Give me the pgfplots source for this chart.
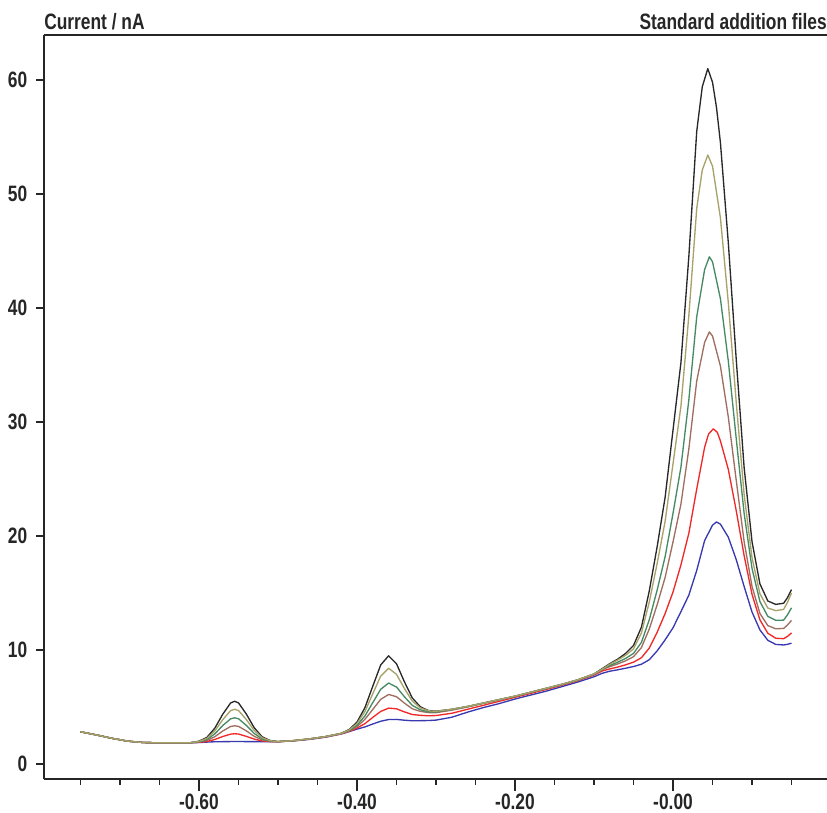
\documentclass[border=0pt]{standalone}
\usepackage{fontspec}
\setmainfont{Liberation Sans}[FakeStretch=0.78]
\usepackage{pgfplots}
\pgfplotsset{compat=1.18}

\definecolor{cBlack}{RGB}{40,40,40}
\definecolor{cOlive}{RGB}{168,162,106}
\definecolor{cGreen}{RGB}{70,138,100}
\definecolor{cBrown}{RGB}{160,110,95}
\definecolor{cRed}{RGB}{240,40,40}
\definecolor{cBlue}{RGB}{56,56,176}
\newcommand{\lblfont}{\fontsize{16.7}{18}\selectfont\bfseries}

\begin{document}
\begin{tikzpicture}
\begin{axis}[
  scale only axis,
  width=587.25pt, height=558pt,
  xmin=-0.7962, xmax=0.1949,
  ymin=-1.316, ymax=63.95,
  axis x line=box, axis y line=left,
  axis line style={-, draw=black!85, line width=1.2pt},
  xtick={-0.6,-0.4,-0.2,0},
  xticklabels={-0.60,-0.40,-0.20,-0.00},
  minor xtick={-0.75,-0.7,-0.65,-0.55,-0.5,-0.45,-0.35,-0.3,-0.25,-0.15,-0.1,-0.05,0.05,0.1,0.15},
  ytick={0,10,20,30,40,50,60},
  yticklabels={0,10,20,30,40,50,60},
  tick align=outside,
  tick pos=left,
  major tick length=9pt, minor tick length=4.5pt,
  ytick style={/pgfplots/major tick length=6pt},
  tick style={line width=1.1pt, draw=black!85},
  tick label style={font=\lblfont, text=black!85},
  xticklabel style={inner sep=1pt, yshift=-1pt},
  /pgf/number format/assume math mode=true,
  every axis plot/.append style={line width=1pt, line join=round},
]
% black
\addplot[cBlack] table {
-0.75 2.83
-0.73 2.55
-0.71 2.25
-0.69 2.00
-0.67 1.88
-0.65 1.86
-0.63 1.86
-0.61 1.87
-0.60 2.00
-0.59 2.33
-0.58 3.14
-0.57 4.36
-0.56 5.35
-0.555 5.50
-0.55 5.36
-0.54 4.37
-0.53 3.17
-0.52 2.38
-0.51 2.06
-0.50 1.97
-0.48 2.05
-0.46 2.20
-0.44 2.40
-0.42 2.69
-0.41 3.02
-0.40 3.67
-0.39 4.94
-0.38 6.83
-0.37 8.69
-0.36 9.49
-0.35 8.79
-0.34 7.21
-0.33 5.79
-0.32 5.03
-0.31 4.69
-0.30 4.63
-0.28 4.80
-0.26 5.05
-0.24 5.35
-0.22 5.65
-0.20 5.95
-0.18 6.30
-0.16 6.65
-0.14 7.00
-0.12 7.40
-0.10 7.90
-0.09 8.35
-0.08 8.80
-0.07 9.20
-0.06 9.70
-0.05 10.40
-0.04 12.00
-0.03 15.20
-0.02 19.10
-0.01 23.40
0.00 29.30
0.01 35.20
0.02 44.50
0.03 55.50
0.037 59.40
0.044 61.00
0.05 59.80
0.055 57.60
0.06 54.50
0.07 45.70
0.08 35.50
0.09 26.00
0.10 19.50
0.11 15.80
0.12 14.30
0.13 14.00
0.14 14.10
0.145 14.60
0.15 15.30
};
% blue
\addplot[cBlue] table {
-0.75 2.83
-0.73 2.55
-0.71 2.25
-0.69 2.00
-0.67 1.88
-0.65 1.86
-0.63 1.86
-0.61 1.87
-0.60 1.88
-0.59 1.92
-0.58 1.95
-0.555 1.97
-0.53 1.96
-0.50 1.95
-0.48 2.03
-0.46 2.16
-0.44 2.35
-0.42 2.63
-0.41 2.84
-0.40 3.06
-0.39 3.25
-0.38 3.51
-0.37 3.75
-0.36 3.90
-0.35 3.91
-0.34 3.84
-0.33 3.79
-0.32 3.80
-0.31 3.81
-0.30 3.85
-0.28 4.10
-0.26 4.55
-0.24 4.95
-0.22 5.30
-0.20 5.70
-0.18 6.05
-0.16 6.40
-0.14 6.80
-0.12 7.20
-0.10 7.65
-0.09 7.95
-0.08 8.14
-0.07 8.26
-0.06 8.40
-0.05 8.55
-0.04 8.75
-0.03 9.15
-0.02 9.93
-0.01 10.89
0.00 11.95
0.01 13.36
0.02 14.81
0.03 16.98
0.04 19.60
0.05 20.95
0.055 21.23
0.06 21.04
0.07 19.89
0.08 17.93
0.09 15.57
0.10 13.33
0.11 11.76
0.12 10.85
0.13 10.49
0.14 10.44
0.145 10.50
0.15 10.60
};
% red
\addplot[cRed] table {
-0.75 2.83
-0.73 2.55
-0.71 2.25
-0.69 2.00
-0.67 1.88
-0.65 1.86
-0.63 1.86
-0.61 1.87
-0.60 1.90
-0.59 1.97
-0.58 2.15
-0.57 2.41
-0.56 2.62
-0.555 2.65
-0.55 2.63
-0.54 2.42
-0.53 2.18
-0.52 2.02
-0.51 1.96
-0.50 1.95
-0.48 2.04
-0.46 2.18
-0.44 2.37
-0.42 2.64
-0.41 2.86
-0.40 3.15
-0.39 3.54
-0.38 4.09
-0.37 4.61
-0.36 4.90
-0.35 4.84
-0.34 4.57
-0.33 4.34
-0.32 4.27
-0.31 4.23
-0.30 4.25
-0.28 4.45
-0.26 4.80
-0.24 5.15
-0.22 5.50
-0.20 5.85
-0.18 6.20
-0.16 6.55
-0.14 6.92
-0.12 7.32
-0.10 7.80
-0.09 8.15
-0.08 8.34
-0.07 8.50
-0.06 8.70
-0.05 8.93
-0.04 9.32
-0.03 10.17
-0.02 11.57
-0.01 13.20
0.00 15.09
0.01 17.46
0.02 20.23
0.03 24.12
0.04 27.79
0.045 28.95
0.051 29.40
0.056 29.10
0.06 28.34
0.07 25.84
0.08 22.22
0.09 18.28
0.10 14.88
0.11 12.64
0.12 11.47
0.13 11.03
0.14 10.99
0.145 11.20
0.15 11.50
};
% brown
\addplot[cBrown] table {
-0.75 2.83
-0.73 2.55
-0.71 2.25
-0.69 2.00
-0.67 1.88
-0.65 1.86
-0.63 1.86
-0.61 1.87
-0.60 1.93
-0.59 2.06
-0.58 2.39
-0.57 2.89
-0.56 3.29
-0.555 3.35
-0.55 3.30
-0.54 2.90
-0.53 2.42
-0.52 2.11
-0.51 1.99
-0.50 1.95
-0.48 2.05
-0.46 2.20
-0.44 2.40
-0.42 2.67
-0.41 2.90
-0.40 3.28
-0.39 3.91
-0.38 4.79
-0.37 5.67
-0.36 6.10
-0.35 5.90
-0.34 5.34
-0.33 4.84
-0.32 4.62
-0.31 4.51
-0.30 4.50
-0.28 4.72
-0.26 5.00
-0.24 5.32
-0.22 5.63
-0.20 5.93
-0.18 6.28
-0.16 6.62
-0.14 6.97
-0.12 7.36
-0.10 7.85
-0.09 8.25
-0.08 8.54
-0.07 8.78
-0.06 9.05
-0.05 9.41
-0.04 10.21
-0.03 11.85
-0.02 13.99
-0.01 16.37
0.00 19.49
0.01 22.79
0.02 27.63
0.03 33.60
0.04 36.99
0.046 37.90
0.05 37.54
0.06 34.90
0.07 30.42
0.08 24.89
0.09 19.51
0.10 15.57
0.11 13.20
0.12 12.14
0.13 11.86
0.14 11.89
0.145 12.20
0.15 12.60
};
% green
\addplot[cGreen] table {
-0.75 2.83
-0.73 2.55
-0.71 2.25
-0.69 2.00
-0.67 1.88
-0.65 1.86
-0.63 1.86
-0.61 1.87
-0.60 1.95
-0.59 2.15
-0.58 2.64
-0.57 3.37
-0.56 3.96
-0.555 4.05
-0.55 3.97
-0.54 3.38
-0.53 2.67
-0.52 2.20
-0.51 2.01
-0.50 1.96
-0.48 2.05
-0.46 2.20
-0.44 2.40
-0.42 2.67
-0.41 2.93
-0.40 3.39
-0.39 4.21
-0.38 5.39
-0.37 6.55
-0.36 7.10
-0.35 6.75
-0.34 5.90
-0.33 5.14
-0.32 4.76
-0.31 4.58
-0.30 4.56
-0.28 4.78
-0.26 5.03
-0.24 5.33
-0.22 5.64
-0.20 5.94
-0.18 6.29
-0.16 6.64
-0.14 6.99
-0.12 7.38
-0.10 7.88
-0.09 8.30
-0.08 8.64
-0.07 8.93
-0.06 9.26
-0.05 9.70
-0.04 10.67
-0.03 12.67
-0.02 15.28
-0.01 18.19
0.00 21.99
0.01 26.03
0.02 31.93
0.03 39.24
0.04 43.38
0.046 44.49
0.05 44.05
0.06 40.81
0.07 35.33
0.08 28.55
0.09 21.98
0.10 17.15
0.11 14.25
0.12 12.95
0.13 12.60
0.14 12.62
0.145 13.10
0.15 13.70
};
% olive
\addplot[cOlive] table {
-0.75 2.83
-0.73 2.55
-0.71 2.25
-0.69 2.00
-0.67 1.88
-0.65 1.86
-0.63 1.86
-0.61 1.87
-0.60 1.98
-0.59 2.25
-0.58 2.90
-0.57 3.88
-0.56 4.68
-0.555 4.80
-0.55 4.69
-0.54 3.89
-0.53 2.93
-0.52 2.30
-0.51 2.04
-0.50 1.96
-0.48 2.05
-0.46 2.20
-0.44 2.40
-0.42 2.68
-0.41 2.98
-0.40 3.54
-0.39 4.60
-0.38 6.17
-0.37 7.71
-0.36 8.40
-0.35 7.86
-0.34 6.62
-0.33 5.51
-0.32 4.93
-0.31 4.67
-0.30 4.62
-0.28 4.80
-0.26 5.05
-0.24 5.35
-0.22 5.65
-0.20 5.95
-0.18 6.30
-0.16 6.65
-0.14 7.00
-0.12 7.40
-0.10 7.90
-0.09 8.30
-0.08 8.75
-0.07 9.12
-0.06 9.53
-0.05 10.10
-0.04 11.49
-0.03 14.23
-0.02 17.62
-0.01 21.29
0.00 26.34
0.01 31.38
0.02 39.31
0.03 48.73
0.037 52.10
0.044 53.42
0.05 52.44
0.06 47.91
0.07 40.46
0.08 31.72
0.09 23.64
0.10 18.09
0.11 14.93
0.12 13.68
0.13 13.45
0.14 13.56
0.145 14.20
0.15 15.00
};
\end{axis}
\node[anchor=base west, inner sep=0pt, font=\lblfont, text=black!85]
  at ([yshift=4pt]current axis.north west) {Current / nA};
\node[anchor=base east, inner sep=0pt, font=\lblfont, text=black!85]
  at ([yshift=4pt]current axis.north east) {Standard addition files};
\pgfresetboundingbox
\path[use as bounding box] ([xshift=-33pt,yshift=-25.5pt]current axis.south west)
  rectangle ([yshift=26.25pt]current axis.north east);
\end{tikzpicture}
\end{document}
